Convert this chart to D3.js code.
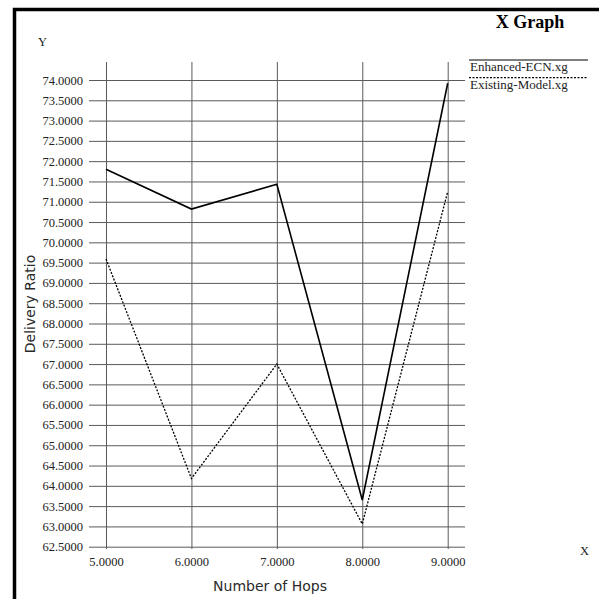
<!DOCTYPE html>
<html>
<head>
<meta charset="utf-8">
<script src="https://cdn.jsdelivr.net/npm/d3@7"></script>
<style>
    html, body { margin: 0; padding: 0; background: #fff; overflow: hidden; }
</style>
</head>
<body>
<svg id="chart" width="599" height="599"></svg>
<script>
var hops = [5, 6, 7, 8, 9];
var enhanced = [71.80, 70.82, 71.43, 63.65, 73.92];
var existing = [69.59, 64.18, 67.00, 63.06, 71.25];
var seriesNames = ["Enhanced-ECN.xg", "Existing-Model.xg"];
var xTicks = [5, 6, 7, 8, 9];
var yTicks = d3.range(62.5, 74.01, 0.5);

var svg = d3.select("#chart");
var serif = "'Liberation Serif', 'Times New Roman', serif";
var sans = "'DejaVu Sans', Verdana, sans-serif";

svg.append("rect").attr("width", 599).attr("height", 599).attr("fill", "#fff");

// frame (only top and left edges show in the window)
svg.append("rect")
    .attr("x", 14.5).attr("y", 9.5)
    .attr("width", 700).attr("height", 700)
    .attr("fill", "none")
    .attr("stroke", "#000")
    .attr("stroke-width", 3.5);

var x = d3.scaleLinear().domain([5, 9]).range([106, 447.7]);
var y = d3.scaleLinear().domain([62.5, 74]).range([546.7, 80]);

var gridLeft = 89, gridRight = 465, gridTop = 62, gridBottom = 549;
var fmt = d3.format(".4f");

var yAxis = svg.append("g")
    .attr("transform", "translate(" + gridLeft + ",0)")
    .call(d3.axisLeft(y).tickValues(yTicks).tickFormat(fmt)
        .tickSize(-(gridRight - gridLeft)).tickPadding(6));

var xAxis = svg.append("g")
    .attr("transform", "translate(0," + gridBottom + ")")
    .call(d3.axisBottom(x).tickValues(xTicks).tickFormat(fmt)
        .tickSize(-(gridBottom - gridTop)).tickPadding(8));

[yAxis, xAxis].forEach(function(ax) {
    ax.select(".domain").remove();
    ax.selectAll("line").attr("stroke", "#5a5a5a").attr("stroke-width", 1);
    ax.selectAll("text")
        .attr("fill", "#222")
        .attr("font-family", serif)
        .attr("font-size", 12.5);
});

var line = d3.line()
    .x(function(d) { return x(d[0]); })
    .y(function(d) { return y(d[1]); });

svg.append("path")
    .datum(d3.zip(hops, enhanced))
    .attr("d", line)
    .attr("fill", "none")
    .attr("stroke", "#000")
    .attr("stroke-width", 1.6);

svg.append("path")
    .datum(d3.zip(hops, existing))
    .attr("d", line)
    .attr("fill", "none")
    .attr("stroke", "#000")
    .attr("stroke-width", 1.3)
    .attr("stroke-dasharray", "2,1.5");

// title
svg.append("text")
    .attr("x", 530).attr("y", 28)
    .attr("text-anchor", "middle")
    .attr("font-family", serif)
    .attr("font-weight", "bold")
    .attr("font-size", 18)
    .text("X Graph");

// legend
var legend = svg.selectAll(".legend")
    .data(seriesNames)
    .enter()
    .append("g")
    .attr("class", "legend")
    .attr("transform", function(d, i) { return "translate(469," + (60 + i * 17.7) + ")"; });

legend.append("line")
    .attr("x1", 0).attr("x2", 119)
    .attr("y1", 0).attr("y2", 0)
    .attr("stroke", function(d, i) { return i === 0 ? "#555" : "#000"; })
    .attr("stroke-width", function(d, i) { return i === 0 ? 1.6 : 1.2; })
    .attr("stroke-dasharray", function(d, i) { return i === 0 ? null : "2,1.5"; });

legend.append("text")
    .attr("x", 1).attr("y", 11)
    .attr("font-family", serif)
    .attr("font-size", 13)
    .attr("fill", "#222")
    .text(function(d) { return d; });

// axis letters
svg.append("text")
    .attr("x", 38).attr("y", 46)
    .attr("font-family", serif).attr("font-size", 12.5)
    .attr("fill", "#222")
    .text("Y");

svg.append("text")
    .attr("x", 580).attr("y", 555)
    .attr("font-family", serif).attr("font-size", 12.5)
    .attr("fill", "#222")
    .text("X");

// axis titles
svg.append("text")
    .attr("x", 270).attr("y", 591)
    .attr("text-anchor", "middle")
    .attr("font-family", sans).attr("font-size", 14)
    .attr("fill", "#2a2a2a")
    .text("Number of Hops");

svg.append("text")
    .attr("transform", "translate(35,304) rotate(-90)")
    .attr("text-anchor", "middle")
    .attr("font-family", sans).attr("font-size", 14)
    .attr("fill", "#2a2a2a")
    .text("Delivery Ratio");
</script>
</body>
</html>
